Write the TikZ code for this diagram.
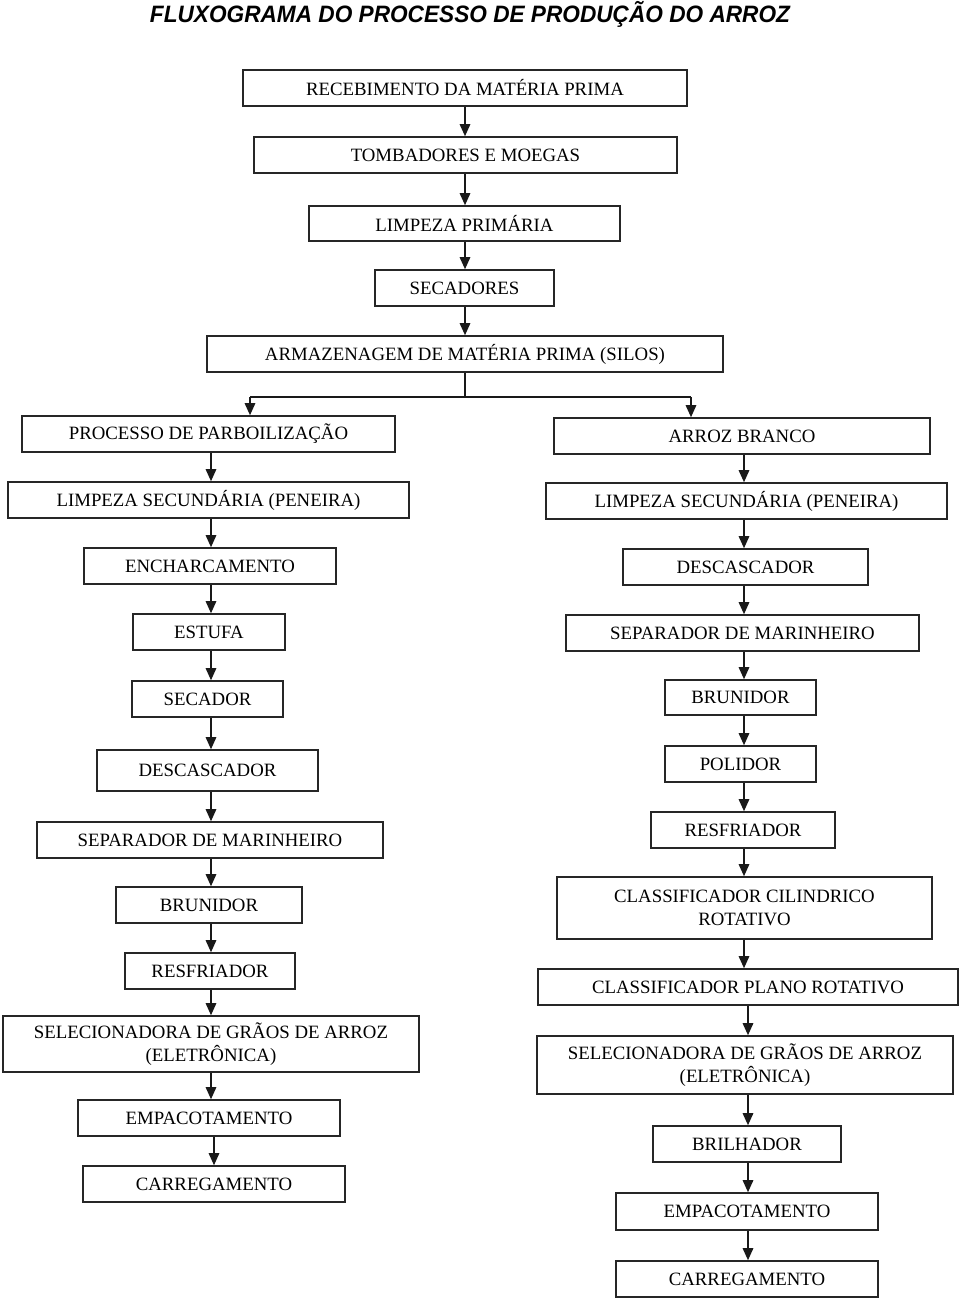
\documentclass[tikz,border=0pt]{standalone}
\usepackage{fontspec}
\setmainfont{Liberation Serif}
\newfontfamily\titlefont{Liberation Sans}
\usetikzlibrary{arrows.meta}
\newcommand\boxfont{\fontsize{18.8}{22.5}\selectfont}
\tikzset{
  box/.style={draw=black!85, line width=1.6pt, inner sep=0pt, align=center, font=\boxfont},
  arr/.style={draw=black!90, line width=1.4pt, -{Triangle[length=12pt,width=10.5pt]}},
  lin/.style={draw=black!90, line width=1.4pt}
}
\begin{document}
\begin{tikzpicture}[x=1pt,y=-1pt]
\useasboundingbox (0,0) rectangle (960,1299);
\fill[white] (0,0) rectangle (960,1299);
\node[inner sep=0pt] (title) at (470,14) {\scalebox{0.955}[1]{\titlefont\bfseries\itshape\fontsize{23.7}{26}\selectfont FLUXOGRAMA DO PROCESSO DE PRODUÇÃO DO ARROZ}};
% main column
\node[box, minimum width=444pt, minimum height=36pt] (n1) at (465,88) {RECEBIMENTO DA MATÉRIA PRIMA};
\node[box, minimum width=423pt, minimum height=36pt] (n2) at (465.5,155) {TOMBADORES E MOEGAS};
\node[box, minimum width=311pt, minimum height=35pt] (n3) at (464.5,223.5) {LIMPEZA PRIMÁRIA};
\node[box, minimum width=179pt, minimum height=36pt] (n4) at (464.5,288) {SECADORES};
\node[box, minimum width=516pt, minimum height=36pt] (n5) at (465,354) {ARMAZENAGEM DE MATÉRIA PRIMA (SILOS)};
% left column
\node[box, minimum width=373pt, minimum height=36pt] (L1) at (208.5,434) {PROCESSO DE PARBOILIZAÇÃO};
\node[box, minimum width=401pt, minimum height=36pt] (L2) at (208.5,500) {LIMPEZA SECUNDÁRIA (PENEIRA)};
\node[box, minimum width=252pt, minimum height=36pt] (L3) at (210,566) {ENCHARCAMENTO};
\node[box, minimum width=152pt, minimum height=36pt] (L4) at (209,632) {ESTUFA};
\node[box, minimum width=151pt, minimum height=36pt] (L5) at (207.5,699) {SECADOR};
\node[box, minimum width=221pt, minimum height=41pt] (L6) at (207.5,770.5) {DESCASCADOR};
\node[box, minimum width=346pt, minimum height=36pt] (L7) at (210,840) {SEPARADOR DE MARINHEIRO};
\node[box, minimum width=186pt, minimum height=36pt] (L8) at (209,905) {BRUNIDOR};
\node[box, minimum width=170pt, minimum height=36pt] (L9) at (210,971) {RESFRIADOR};
\node[box, minimum width=416pt, minimum height=56pt] (L10) at (211,1044) {SELECIONADORA DE GRÃOS DE ARROZ\\(ELETRÔNICA)};
\node[box, minimum width=262pt, minimum height=36pt] (L11) at (209,1118) {EMPACOTAMENTO};
\node[box, minimum width=262pt, minimum height=36pt] (L12) at (214,1184) {CARREGAMENTO};
% right column
\node[box, minimum width=376pt, minimum height=36pt] (R1) at (742,436) {ARROZ BRANCO};
\node[box, minimum width=401pt, minimum height=36pt] (R2) at (746.5,501) {LIMPEZA SECUNDÁRIA (PENEIRA)};
\node[box, minimum width=245pt, minimum height=36pt] (R3) at (745.5,567) {DESCASCADOR};
\node[box, minimum width=353pt, minimum height=36pt] (R4) at (742.5,633) {SEPARADOR DE MARINHEIRO};
\node[box, minimum width=151pt, minimum height=35pt] (R5) at (740.5,697.5) {BRUNIDOR};
\node[box, minimum width=151pt, minimum height=36pt] (R6) at (740.5,764) {POLIDOR};
\node[box, minimum width=184pt, minimum height=36pt] (R7) at (743,830) {RESFRIADOR};
\node[box, minimum width=375pt, minimum height=62pt] (R8) at (744.5,908) {CLASSIFICADOR CILINDRICO\\ROTATIVO};
\node[box, minimum width=420pt, minimum height=36pt] (R9) at (748,987) {CLASSIFICADOR PLANO ROTATIVO};
\node[box, minimum width=416pt, minimum height=58pt] (R10) at (745,1065) {SELECIONADORA DE GRÃOS DE ARROZ\\(ELETRÔNICA)};
\node[box, minimum width=188pt, minimum height=36pt] (R11) at (747,1144) {BRILHADOR};
\node[box, minimum width=262pt, minimum height=37pt] (R12) at (747,1211.5) {EMPACOTAMENTO};
\node[box, minimum width=262pt, minimum height=36pt] (R13) at (747,1279) {CARREGAMENTO};
% column coordinates
\coordinate (mx) at (465,0);
\coordinate (lx) at (211,0);
\coordinate (rx) at (744,0);
\coordinate (rx2) at (748,0);
\coordinate (split) at (465,397);
\coordinate (sl) at (250,397);
\coordinate (sr) at (691,397);
% main arrows
\foreach \a/\b in {n1/n2,n2/n3,n3/n4,n4/n5}
  \draw[arr] (\a.south -| mx) -- (\b.north -| mx);
% split
\draw[lin] (n5.south -| mx) -- (split);
\draw[lin] (sl) -- (sr);
\draw[arr] (sl) -- (L1.north -| sl);
\draw[arr] (sr) -- (R1.north -| sr);
% left arrows
\foreach \a/\b in {L1/L2,L2/L3,L3/L4,L4/L5,L5/L6,L6/L7,L7/L8,L8/L9,L9/L10,L10/L11}
  \draw[arr] (\a.south -| lx) -- (\b.north -| lx);
\draw[arr] (L11.south -| L12) -- (L12.north);
% right arrows
\foreach \a/\b in {R1/R2,R2/R3,R3/R4,R4/R5,R5/R6,R6/R7,R7/R8,R8/R9}
  \draw[arr] (\a.south -| rx) -- (\b.north -| rx);
\foreach \a/\b in {R9/R10,R10/R11,R11/R12,R12/R13}
  \draw[arr] (\a.south -| rx2) -- (\b.north -| rx2);
\end{tikzpicture}
\end{document}
